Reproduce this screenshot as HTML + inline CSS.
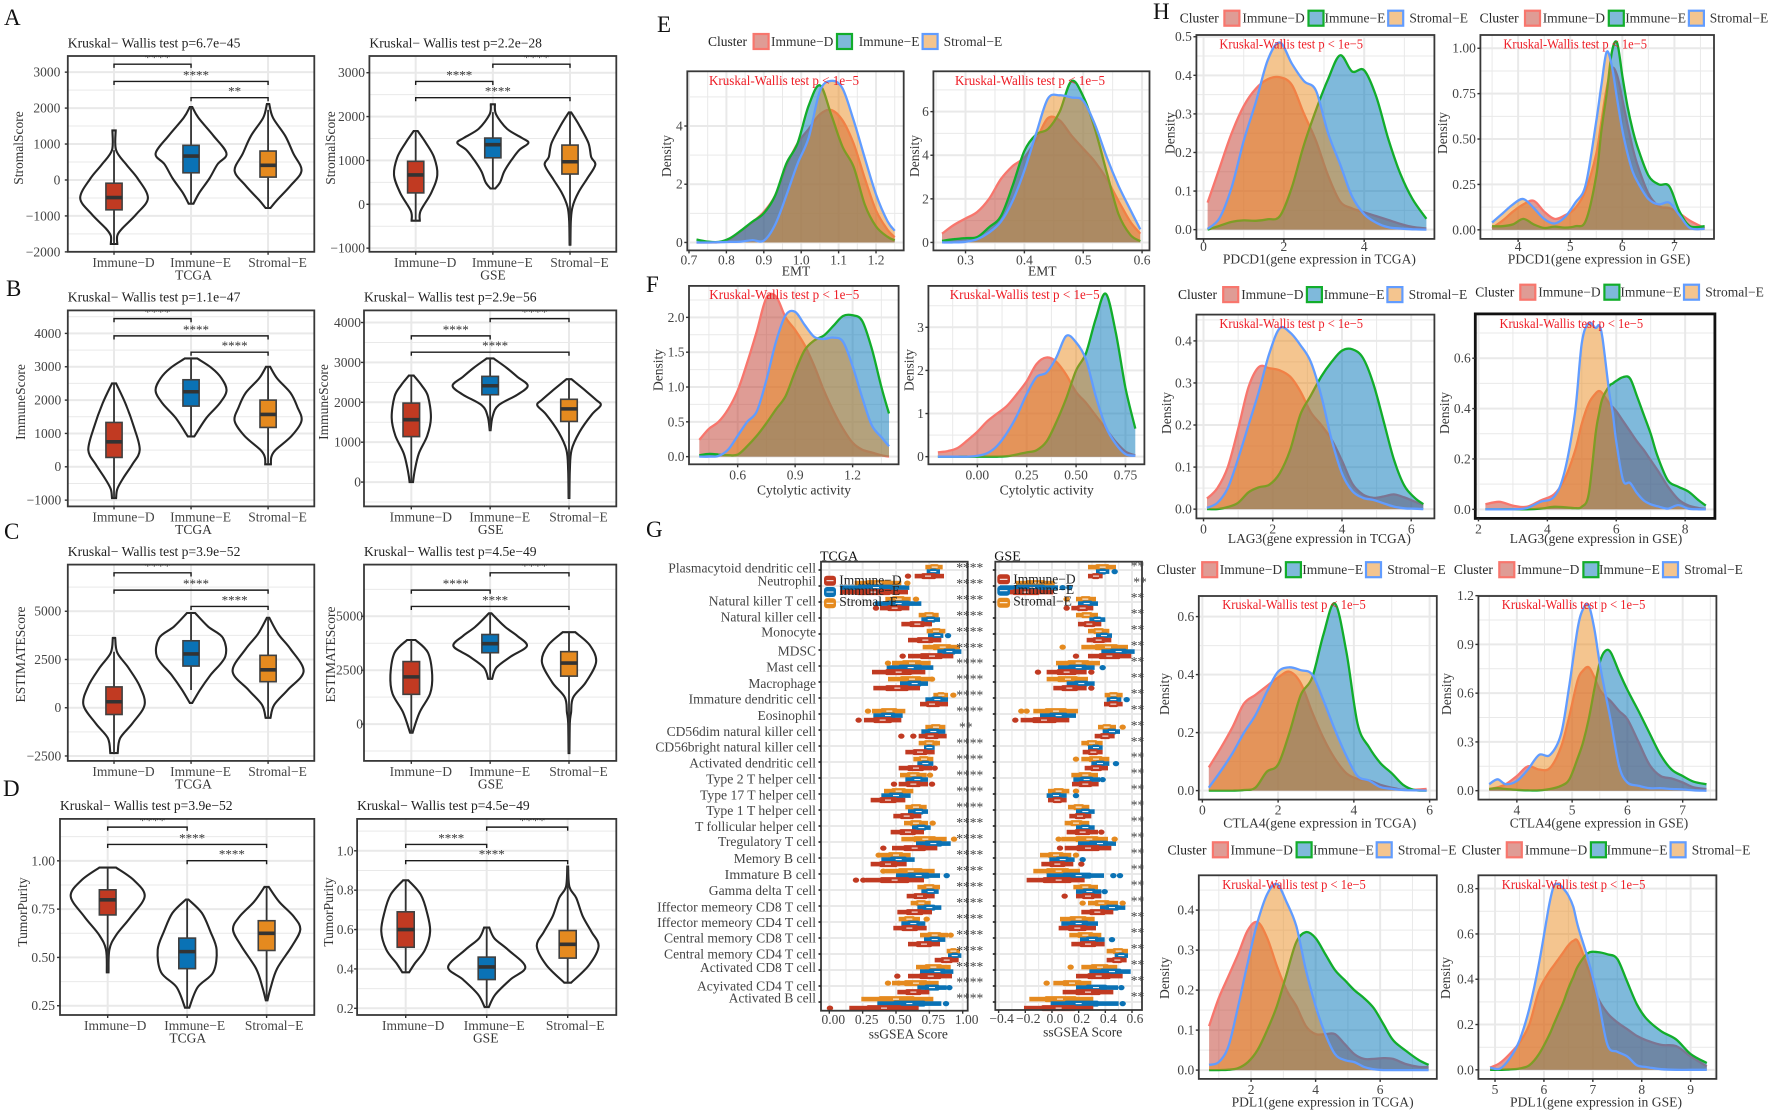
<!DOCTYPE html>
<html lang="en">
<head>
<meta charset="utf-8">
<title>Immune cluster figure</title>
<style>
html,body{margin:0;padding:0;background:#fff;}
#figure{display:block;width:1772px;height:1113px;font-family:"Liberation Serif","Noto Serif CJK SC",serif;filter:blur(0.35px);}
</style>
</head>
<body>
<svg id="figure" xmlns="http://www.w3.org/2000/svg" width="1772" height="1113" viewBox="0 0 1772 1113">
<rect x="0" y="0" width="1772" height="1113" fill="#fff"/>
<g font-size="23" fill="#111">
<text x="4" y="25">A</text>
<text x="6" y="296">B</text>
<text x="4" y="539">C</text>
<text x="3" y="796">D</text>
<text x="657" y="32">E</text>
<text x="646" y="292">F</text>
<text x="646" y="537">G</text>
<text x="1153" y="19">H</text>
</g>
<g font-size="13.5" fill="#444" text-anchor="end">
<text x="816" y="572.4" textLength="147.7" lengthAdjust="spacingAndGlyphs">Plasmacytoid dendritic cell</text>
<text x="816" y="585.6" textLength="58.5" lengthAdjust="spacingAndGlyphs">Neutrophil</text>
<text x="816" y="605.3" textLength="107.2" lengthAdjust="spacingAndGlyphs">Natural killer T cell</text>
<text x="816" y="621.6" textLength="95.4" lengthAdjust="spacingAndGlyphs">Natural killer cell</text>
<text x="816" y="636.7" textLength="54.8" lengthAdjust="spacingAndGlyphs">Monocyte</text>
<text x="816" y="655.6" textLength="38.2" lengthAdjust="spacingAndGlyphs">MDSC</text>
<text x="816" y="671.5" textLength="49.7" lengthAdjust="spacingAndGlyphs">Mast cell</text>
<text x="816" y="687.8" textLength="67.6" lengthAdjust="spacingAndGlyphs">Macrophage</text>
<text x="816" y="703.7" textLength="127.4" lengthAdjust="spacingAndGlyphs">Immature dendritic cell</text>
<text x="816" y="719.9" textLength="58.5" lengthAdjust="spacingAndGlyphs">Eosinophil</text>
<text x="816" y="735.8" textLength="149.4" lengthAdjust="spacingAndGlyphs">CD56dim natural killer cell</text>
<text x="816" y="751.7" textLength="160.6" lengthAdjust="spacingAndGlyphs">CD56bright natural killer cell</text>
<text x="816" y="767.6" textLength="126.8" lengthAdjust="spacingAndGlyphs">Activated dendritic cell</text>
<text x="816" y="783.5" textLength="109.9" lengthAdjust="spacingAndGlyphs">Type 2 T helper cell</text>
<text x="816" y="799.3" textLength="116" lengthAdjust="spacingAndGlyphs">Type 17 T helper cell</text>
<text x="816" y="814.8" textLength="109.9" lengthAdjust="spacingAndGlyphs">Type 1 T helper cell</text>
<text x="816" y="831" textLength="120.9" lengthAdjust="spacingAndGlyphs">T follicular helper cell</text>
<text x="816" y="845.9" textLength="98" lengthAdjust="spacingAndGlyphs">Tregulatory T cell</text>
<text x="816" y="862.9" textLength="82.2" lengthAdjust="spacingAndGlyphs">Memory B cell</text>
<text x="816" y="879.1" textLength="91.3" lengthAdjust="spacingAndGlyphs">Immature  B cell</text>
<text x="816" y="895" textLength="107.2" lengthAdjust="spacingAndGlyphs">Gamma delta T cell</text>
<text x="816" y="911.3" textLength="158.9" lengthAdjust="spacingAndGlyphs">Iffector memeory CD8 T cell</text>
<text x="816" y="926.8" textLength="158.9" lengthAdjust="spacingAndGlyphs">Iffector memeory CD4 T cell</text>
<text x="816" y="942.7" textLength="152" lengthAdjust="spacingAndGlyphs">Central memory CD8 T cell</text>
<text x="816" y="958.6" textLength="152" lengthAdjust="spacingAndGlyphs">Central memory CD4 T cell</text>
<text x="816" y="972.2" textLength="116" lengthAdjust="spacingAndGlyphs">Activated CD8 T cell</text>
<text x="816" y="990.3" textLength="119" lengthAdjust="spacingAndGlyphs">Acyivated CD4 T cell</text>
<text x="816" y="1002.4" textLength="87.2" lengthAdjust="spacingAndGlyphs">Activated B cell</text>
</g>
<g id="plots"></g>
</svg>
<script>
// ---------- shared categories ----------
const categories=['Immune−D','Immune−E','Stromal−E'];

// ---------- violin panels: ticks, profile values, relative density, box stats [low,q1,med,q3,high] ----------
const aTcgaTicks=['-2000','-1000','0','1000','2000','3000'];
const aTcgaValues=[[1380,830,430,40,-500,-950,-1350,-1550,-1780],[2030,1730,1230,735,440,40,-360,-660],[2110,1730,1230,735,260,-160,-560,-780]];
const aTcgaDensity=[[4,5,30,58,83,55,20,8,8],[3,18,55,87,65,45,20,6],[3,12,42,62,82,55,22,6]];
const aTcgaBox=[[-1780,-830,-490,-90,830],[-660,200,666,964,2030],[-780,80,407,805,1950]];

const aGseTicks=['-1000','0','1000','2000','3000'];
const aGseValues=[[1670,1400,1070,670,260,-150,-375],[2280,2050,1720,1520,1400,1240,1000,750,505,360],[2095,1810,1400,1075,900,585,260,-65,-390,-920]];
const aGseDensity=[[5,25,45,53,38,12,10],[5,8,35,70,87,65,45,28,18,6],[3,22,45,52,62,42,20,6,2,1]];
const aGseBox=[[-375,260,670,980,1670],[360,1060,1360,1510,2100],[-920,690,970,1350,2080]];

const bTcgaTicks=['-1000','0','1000','2000','3000','4000'];
const bTcgaValues=[[2500,1900,1150,500,75,-350,-670,-940],[3250,2970,2650,2280,1900,1470,910],[3000,2650,2215,1790,1380,930,500,290,75]];
const bTcgaDensity=[[5,28,50,63,45,22,8,5],[15,50,75,87,70,38,8],[5,22,55,72,82,58,18,8,7]];
const bTcgaBox=[[-940,280,750,1330,2500],[910,1820,2250,2610,3250],[75,1180,1570,2000,3000]];

const bGseTicks=['0','1000','2000','3000','4000'];
const bGseValues=[[2670,2420,2150,1610,1160,715,270,0],[3100,2860,2640,2415,2190,1925,1655,1300],[2580,2330,2060,1925,1700,1250,800,270,-400]];
const bGseDensity=[[6,25,40,47,38,18,8,4],[8,40,65,90,65,20,6,1],[6,35,65,76,55,25,6,2,1]];
const bGseBox=[[0,1140,1565,1980,2670],[1300,2190,2415,2650,3100],[-400,1520,1835,2075,2580]];

const cTcgaTicks=['-2500','0','2500','5000'];
const cTcgaValues=[[3620,2850,2080,1120,150,-810,-1580,-2350],[4910,4200,3620,2660,1700,925,250],[4660,3815,3045,1890,925,150,-520]];
const cTcgaDensity=[[3,8,35,63,75,45,15,9],[10,42,78,84,48,22,3],[3,25,55,87,48,15,6]];
const cTcgaBox=[[-2350,-350,310,1080,2900],[920,2160,2790,3470,4910],[-520,1350,1965,2715,4660]];

const cGseTicks=['0','2500','5000'];
const cGseValues=[[3900,3310,2275,1410,550,-400],[5140,4520,4090,3620,3140,2620,2100],[4260,3655,2880,1930,1240,550,35,-1345]];
const cGseDensity=[[10,40,50,45,20,3],[3,35,65,88,50,15,5],[15,50,65,40,10,5,2,1]];
const cGseBox=[[-400,1380,2190,2900,3900],[2100,3310,3730,4155,5140],[-1345,2225,2830,3360,4260]];

const dTcgaTicks=['0.25','0.50','0.75','1.00'];
const dTcgaValues=[[.965,.90,.817,.71,.615,.54,.423],[.80,.73,.635,.54,.423,.346,.24],[.865,.788,.71,.644,.558,.442,.346,.278]];
const dTcgaDensity=[[20,62,88,55,20,4,2],[3,35,55,70,62,25,5],[5,30,65,80,60,25,10,2]];
const dTcgaBox=[[.423,.72,.798,.85,.965],[.24,.442,.53,.60,.80],[.278,.536,.625,.69,.865]];

const dGseTicks=['0.2','0.4','0.6','0.8','1.0'];
const dGseValues=[[.85,.778,.684,.59,.497,.43,.383],[.61,.555,.497,.41,.346,.27,.206],[.92,.817,.76,.668,.59,.516,.42,.33]];
const dGseDensity=[[6,35,50,57,45,22,8],[6,18,50,90,55,20,5],[1,4,20,35,55,72,50,8]];
const dGseBox=[[.383,.51,.60,.69,.85],[.206,.346,.41,.46,.61],[.33,.455,.525,.595,.92]];

// ---------- density panels ----------
const e1X=[.72,.75,.78,.81,.84,.87,.90,.93,.96,.99,1.02,1.05,1.08,1.11,1.14,1.17,1.20,1.23,1.25];
const e1D=[0,0,.01,.12,.4,.7,1.05,1.6,2.6,3.4,3.9,4.4,4.55,4.2,3.4,2.2,1.1,.45,.18];
const e1E=[.1,.03,.02,.15,.42,.72,1.0,1.6,2.7,3.4,4.7,5.4,4.4,3.3,2.6,1.3,.55,.2,.07];
const e1S=[0,0,.01,.02,.03,.08,.06,.6,1.6,2.7,3.6,5.2,5.55,5.3,4.2,2.9,1.65,.75,.4];
const e1XTicks=['0.7','0.8','0.9','1.0','1.1','1.2'];
const e1YTicks=['0','2','4'];

const e2X=[.26,.28,.30,.32,.34,.36,.38,.40,.42,.44,.46,.48,.50,.52,.54,.56,.58,.597];
const e2D=[.4,.8,1.1,1.4,2,2.9,3.5,3.9,4.7,5.7,5.6,4.9,4.3,3.7,2.9,1.9,.95,.4];
const e2E=[.07,.15,.2,.25,.7,1.2,2.6,4.2,4.95,5.2,6,7.4,6.7,5.2,3.2,1.3,.35,.06];
const e2S=[0,0,.03,.15,.45,.95,1.9,3.3,5,6.6,6.75,6.65,6.5,5.4,3.9,2.6,1.5,.6];
const e2XTicks=['0.3','0.4','0.5','0.6'];
const e2YTicks=['0','2','4','6'];

const f1X=[.4,.45,.5,.55,.6,.65,.7,.75,.8,.85,.9,.95,1,1.05,1.1,1.15,1.2,1.25,1.3,1.35,1.39];
const f1D=[.24,.4,.5,.68,.95,1.35,1.8,2.28,2.3,2.0,1.82,1.6,1.3,.95,.65,.4,.2,.1,.06,.02,0];
const f1E=[.02,.04,.03,.02,.03,.15,.3,.48,.68,.87,1.22,1.53,1.67,1.74,1.88,2.02,2.03,1.95,1.55,1.0,.62];
const f1S=[0,0,.01,.1,.3,.5,.65,1.1,1.65,2.03,2.08,1.89,1.72,1.69,1.71,1.65,1.3,.85,.45,.28,.15];
const f1XTicks=['0.6','0.9','1.2'];
const f1YTicks=['0.0','0.5','1.0','1.5','2.0'];

const f2X=[-.2,-.15,-.1,-.05,0,.05,.1,.15,.2,.25,.3,.35,.4,.45,.5,.55,.6,.65,.7,.75,.8];
const f2D=[.1,.13,.2,.38,.58,.82,1,1.18,1.45,1.75,2.15,2.3,2.2,1.9,1.5,1.25,.95,.65,.35,.12,.03];
const f2E=[0,0,0,0,0,0,0,.01,.05,.1,.15,.35,.8,1.35,2.0,2.4,3.2,3.78,2.9,1.6,.65];
const f2S=[0,0,0,0,.02,.08,.25,.55,.95,1.45,1.85,1.95,2.3,2.8,2.65,2.25,1.4,.7,.3,.06,.02];
const f2XTicks=['0.00','0.25','0.50','0.75'];
const f2YTicks=['0','1','2','3'];

const h1X=[.1,.4,.7,1,1.3,1.6,1.9,2.2,2.5,2.8,3.1,3.4,3.7,4,4.3,4.6,4.9,5.2,5.55];
const h1D=[.07,.16,.25,.32,.365,.39,.395,.375,.3,.23,.14,.073,.055,.045,.035,.025,.015,.007,.003];
const h1E=[0,.01,.02,.024,.023,.027,.035,.11,.22,.31,.39,.452,.41,.413,.345,.235,.145,.08,.028];
const h1S=[.002,.03,.11,.23,.33,.44,.485,.43,.385,.36,.25,.17,.086,.04,.018,.006,.003,.001,0];
const h1XTicks=['0','2','4'];
const h1YTicks=['0.0','0.1','0.2','0.3','0.4','0.5'];

const h2X=[3.5,3.7,3.9,4.1,4.3,4.5,4.7,4.9,5.1,5.3,5.5,5.6,5.7,5.8,5.9,6.0,6.1,6.2,6.3,6.5,6.7,6.9,7.1,7.3,7.58];
const h2D=[.01,.05,.1,.14,.16,.1,.06,.08,.12,.22,.42,.6,.78,.89,.85,.72,.58,.45,.35,.2,.13,.12,.09,.05,.01];
const h2E=[.02,.02,.03,.06,.03,.01,.018,.012,.02,.05,.3,.55,.75,.98,1.03,.85,.68,.55,.45,.3,.25,.24,.1,.02,.02];
const h2S=[.04,.09,.14,.17,.12,.06,.035,.07,.15,.25,.6,.8,.98,.9,.72,.55,.42,.32,.26,.17,.14,.15,.08,.01,.005];
const h2XTicks=['4','5','6','7'];
const h2YTicks=['0.00','0.25','0.50','0.75','1.00'];

const h3X=[.1,.4,.7,1,1.3,1.6,1.9,2.2,2.5,2.8,3.1,3.4,3.7,4,4.3,4.6,4.9,5.2,5.5,5.8,6.1,6.35];
const h3D=[.025,.05,.1,.19,.29,.338,.335,.33,.315,.28,.23,.2,.165,.115,.06,.035,.027,.03,.035,.028,.018,.01];
const h3E=[0,0,.005,.015,.04,.052,.058,.085,.14,.225,.27,.315,.35,.377,.38,.36,.3,.21,.118,.056,.027,.012];
const h3S=[.003,.015,.05,.12,.2,.28,.37,.43,.42,.39,.35,.27,.165,.085,.043,.027,.022,.014,.006,.002,.001,0];
const h3XTicks=['0','2','4','6'];
const h3YTicks=['0.0','0.1','0.2','0.3','0.4'];

const h4X=[2.2,2.6,3,3.4,3.8,4.2,4.5,4.8,5,5.2,5.4,5.5,5.6,5.8,5.9,6,6.2,6.4,6.6,6.8,7,7.2,7.5,7.8,8.1,8.4,8.6];
const h4D=[.02,.03,.015,.01,.035,.06,.12,.23,.34,.42,.46,.47,.46,.42,.405,.39,.35,.31,.27,.235,.195,.155,.09,.04,.015,.005,.002];
const h4E=[0,0,0,0,.003,.01,.008,.005,.01,.06,.3,.38,.44,.49,.5,.51,.525,.52,.45,.375,.3,.21,.115,.09,.07,.035,.015];
const h4S=[0,0,0,.005,.03,.05,.15,.38,.66,.74,.72,.73,.68,.46,.38,.27,.115,.105,.065,.035,.02,.012,.003,.017,.002,0,0];
const h4XTicks=['2','4','6','8'];
const h4YTicks=['0.0','0.2','0.4','0.6'];

const h5X=[.17,.5,.8,1.1,1.4,1.7,2,2.3,2.6,2.9,3.2,3.5,3.8,4.1,4.4,4.7,5,5.3,5.6,5.92];
const h5D=[.08,.15,.22,.3,.33,.36,.39,.41,.37,.27,.18,.11,.06,.04,.035,.02,.01,.003,.003,.006];
const h5E=[0,0,0,.002,.01,.065,.09,.2,.33,.39,.54,.645,.48,.23,.15,.095,.06,.02,.002,0];
const h5S=[.01,.07,.13,.2,.26,.34,.41,.425,.415,.4,.31,.21,.12,.05,.035,.012,.006,.002,.001,0];
const h5XTicks=['0','2','4','6'];
const h5YTicks=['0.0','0.2','0.4','0.6'];

const h6X=[3.5,3.65,3.8,4,4.2,4.4,4.6,4.8,4.95,5.1,5.2,5.3,5.4,5.5,5.6,5.7,5.85,6,6.2,6.4,6.6,6.8,7,7.2,7.43];
const h6D=[.01,.02,.04,.09,.15,.13,.14,.27,.46,.68,.74,.76,.7,.62,.58,.55,.49,.44,.3,.16,.09,.075,.05,.02,.01];
const h6E=[.01,.015,.01,.005,.002,.002,.01,.03,.07,.2,.3,.44,.62,.79,.86,.85,.73,.62,.49,.354,.22,.13,.09,.055,.04];
const h6S=[.04,.07,.04,.06,.13,.22,.22,.35,.65,1.0,1.12,1.14,1.0,.78,.6,.43,.15,.05,.03,.015,.015,.01,.008,.002,0];
const h6XTicks=['4','5','6','7'];
const h6YTicks=['0.0','0.3','0.6','0.9','1.2'];

const h7X=[.7,1,1.3,1.6,1.9,2.2,2.5,2.8,3.1,3.4,3.7,4,4.3,4.6,4.9,5.2,5.5,5.8,6.1,6.4,6.8,7.2,7.5];
const h7D=[.11,.18,.235,.29,.35,.37,.33,.26,.2,.16,.11,.09,.09,.09,.065,.04,.028,.028,.03,.028,.015,.008,.008];
const h7E=[0,0,.001,.005,.02,.05,.1,.16,.24,.32,.345,.33,.29,.25,.225,.2,.18,.155,.115,.075,.048,.025,.013];
const h7S=[.013,.02,.06,.16,.27,.37,.44,.465,.42,.36,.25,.16,.09,.04,.025,.02,.008,.002,0,0,0,0,0];
const h7XTicks=['2','4','6'];
const h7YTicks=['0.0','0.1','0.2','0.3','0.4'];

const h8X=[4.9,5.1,5.3,5.5,5.7,5.9,6.1,6.2,6.3,6.4,6.5,6.6,6.7,6.9,7.1,7.3,7.5,7.7,7.9,8.1,8.4,8.7,9,9.33];
const h8D=[.01,.03,.07,.12,.2,.35,.43,.46,.49,.52,.55,.57,.565,.45,.32,.25,.21,.18,.15,.13,.11,.105,.06,.015];
const h8E=[0,0,.002,.006,.02,.07,.15,.2,.25,.3,.36,.41,.46,.515,.52,.51,.49,.39,.29,.225,.17,.135,.07,.03];
const h8S=[.01,.005,.05,.13,.27,.47,.72,.81,.82,.8,.77,.72,.63,.49,.32,.11,.08,.06,.02,.012,.003,0,0,0];
const h8XTicks=['5','6','7','8','9'];
const h8YTicks=['0.0','0.2','0.4','0.6','0.8'];

// ---------- ssGSEA boxplots: per-cluster arrays ordered Stromal-E, Immune-E, Immune-D (top to bottom in each row) ----------
const tcgaTicks=['0.00','0.25','0.50','0.75','1.00'];
const tcgaLow=[
[.72,.19,.42,.67,.73,.70,.47,.44,.78,.32,.72,.67,.63,.53,.41,.57,.56,.54,.38,.42,.66,.61,.52,.68,.88,.65,.47,.24],
[.73,.08,.34,.69,.74,.81,.43,.53,.72,.33,.69,.71,.66,.57,.39,.59,.62,.65,.39,.50,.69,.66,.54,.71,.89,.68,.66,.36],
[.64,.08,.38,.54,.59,.59,.32,.33,.68,.26,.67,.57,.52,.52,.31,.48,.46,.47,.31,.27,.58,.51,.48,.59,.79,.59,.51,.15]];
const tcgaHigh=[
[.85,.54,.61,.82,.87,.98,.76,.76,.89,.57,.87,.83,.78,.73,.63,.73,.74,.88,.61,.79,.83,.76,.68,.89,.98,.91,.82,.78],
[.83,.60,.69,.83,.855,.99,.78,.74,.89,.55,.87,.79,.78,.74,.61,.74,.76,.91,.64,.83,.82,.84,.72,.87,.99,.93,.88,.84],
[.86,.59,.60,.77,.84,.93,.72,.68,.89,.54,.88,.79,.77,.74,.57,.69,.71,.81,.58,.71,.79,.77,.73,.83,.97,.92,.75,.67]];
const tcgaMedian=[
[.79,.37,.52,.75,.80,.85,.62,.62,.84,.45,.80,.75,.71,.63,.52,.65,.65,.72,.50,.61,.75,.69,.60,.79,.93,.78,.65,.50],
[.78,.35,.52,.76,.81,.90,.61,.64,.81,.44,.78,.75,.72,.66,.50,.67,.69,.78,.52,.67,.76,.75,.63,.79,.94,.81,.77,.60],
[.74,.33,.49,.66,.72,.77,.52,.51,.77,.40,.76,.68,.65,.63,.44,.58,.59,.64,.44,.49,.68,.64,.60,.71,.88,.76,.63,.41]];
const tcgaOutRow=[1,2,6,7,8,9,11,13,16,17,18,19,22,23,26,26, 4,19,26,27, 0,2,5,9,10,10,12,13,13,17,19,19,25,27];
const tcgaOutCluster=[0,0,0,0,0,0,0,0,0,0,0,0,0,0,0,0, 1,1,1,1, 2,2,2,2,2,2,2,2,2,2,2,2,2,2];
const tcgaOutValue=[.585,.65,.44,.77,.93,.29,.80,.755,.775,.935,.37,.405,.73,.91,.44,.52, .89,.88,.90,.875, .59,.35,.55,.22,.54,.63,.79,.485,.77,.405,.20,.255,.51,.005];
const tcgaStars=['****','****','****','****','****','****','****','****','****','****','**','****','****','****','****','****','****','****','****','****','****','****','****','****','****','****','****','****'];

const gseTicks=['−0.4','−0.2','0.0','0.2','0.4','0.6'];
const gseLow=[
[.27,-.27,.18,.18,.27,.22,.03,-.04,.395,-.14,.345,.22,.22,.145,-.03,.12,.095,.07,-.09,-.14,.16,.27,.06,.13,.41,.22,.01,-.17],
[.33,-.39,.195,.28,.33,.37,.045,.11,.41,-.09,.38,.27,.295,.16,-.04,.18,.18,.195,-.02,-.04,.18,.36,.07,.21,.47,.28,.18,-.01],
[.27,-.39,.145,.195,.26,.27,-.04,.01,.39,-.235,.32,.23,.245,.15,-.03,.13,.11,.095,-.08,-.19,.18,.22,.05,.145,.41,.18,.08,-.21]];
const gseHigh=[
[.48,.02,.33,.345,.43,.57,.36,.27,.53,.195,.48,.38,.43,.345,.13,.28,.28,.42,.145,.21,.345,.495,.32,.37,.57,.49,.295,.31],
[.43,.045,.345,.40,.45,.62,.32,.32,.52,.18,.51,.38,.43,.36,.11,.32,.32,.48,.17,.39,.37,.55,.345,.395,.57,.59,.495,.50],
[.38,.01,.31,.37,.445,.595,.26,.26,.53,.13,.47,.38,.42,.35,.11,.295,.345,.445,.16,.245,.37,.46,.33,.395,.56,.53,.46,.31]];
const gseMedian=[
[.38,-.12,.25,.26,.35,.42,.2,.12,.46,.03,.41,.3,.33,.25,.05,.2,.18,.28,.03,.05,.25,.37,.2,.25,.5,.36,.15,.06],
[.38,-.15,.26,.34,.39,.5,.2,.22,.46,.05,.45,.33,.36,.26,.03,.25,.25,.36,.08,.2,.28,.45,.2,.3,.52,.45,.33,.2],
[.33,-.2,.23,.28,.35,.43,.11,.13,.46,-.06,.4,.31,.33,.25,.04,.21,.23,.27,.04,.05,.27,.34,.19,.27,.49,.35,.27,.05]];
const gseOutRow=[2,5,9,9,10,12,14,17,17,18,21,21,25,26, 0,1,1,6,8,12,13,14,18,19,19,20,23,26,27, 2,5,6,6,7,9,16,17,18,20];
const gseOutCluster=[0,0,0,0,0,0,0,0,0,0,0,0,0,0, 1,1,1,1,1,1,1,1,1,1,1,1,1,1,1, 2,2,2,2,2,2,2,2,2,2];
const gseOutValue=[.11,.08,-.23,-.19,.53,.18,.18,.47,.05,.18,.23,.53,.14,-.04, .47,.08,.13,.38,.56,.48,.38,.18,.23,.46,.51,.395,.45,.52,.53, .11,.18,-.105,.295,.295,-.275,.37,.06,.22,.095];
const gseStars=['**','**','**','**','**','**','**','**','**','**','**','**','**','**','**','**','**','**','**','**','**','**','**','**','**','**','**','**'];

// ---------- drawing ----------
const NS='http://www.w3.org/2000/svg';
const root=document.getElementById('plots');
const GRID='#e9e9e9',BORDER='#383838',TICKTXT='#444';
const FILLS=['#c0392b','#0073b7','#e98b1f'];
const LINES=['#f8766d','#12ad2b','#619cff'];
const BOXF=['#c13a22','#0a72b5','#e58a1f'];
let clipN=0;

function mk(parent,tag,attrs,name){
  const el=document.createElementNS(NS,tag);
  for(const k in attrs){el.setAttribute(k,attrs[k]);}
  
  
  parent.appendChild(el);
  return el;
}
function txt(parent,x,y,str,o,name){
  const fs=(o&&o.size)||13.5;
  const a={x:x,y:y+fs*0.33,'font-size':fs,fill:(o&&o.fill)||TICKTXT,'text-anchor':(o&&o.anchor)||'middle'};
  if(o&&o.len){a.textLength=o.len;a.lengthAdjust='spacingAndGlyphs';}
  if(o&&o.rot){a.transform='rotate(-90 '+x+' '+y+')';}
  if(o&&o.clip){a['clip-path']=o.clip;}
  const el=mk(parent,'text',a,name);
  el.textContent=str;
  return el;
}
function num(s){return parseFloat(String(s).replace('−','-'));}
function fmt(s){return String(s).replace('-','−');}
function f1(v){return Math.round(v*10)/10;}
function smooth(pts,move){
  let d=(move?'M':'L')+f1(pts[0][0])+' '+f1(pts[0][1]);
  for(let i=0;i<pts.length-1;i++){
    const p0=pts[Math.max(0,i-1)],p1=pts[i],p2=pts[i+1],p3=pts[Math.min(pts.length-1,i+2)];
    d+=' C'+f1(p1[0]+(p2[0]-p0[0])/6)+' '+f1(p1[1]+(p2[1]-p0[1])/6)+' '+f1(p2[0]-(p3[0]-p1[0])/6)+' '+f1(p2[1]-(p3[1]-p1[1])/6)+' '+f1(p2[0])+' '+f1(p2[1]);
  }
  return d;
}
function linear(d0,d1,r0,r1){return v=>r0+(v-d0)/(d1-d0)*(r1-r0);}
function minors(ticks,lo,hi){
  const step=ticks.length>1?ticks[1]-ticks[0]:1,out=[];
  for(let v=ticks[0]-step/2;v>lo;v-=step){out.push(v);}
  for(let v=ticks[0]+step/2;v<hi;v+=step){out.push(v);}
  return out;
}
function clipFor(L,T,R,B){
  clipN++;
  const id='clip'+clipN;
  const c=mk(root,'clipPath',{id:id},'panel-clip');
  mk(c,'rect',{x:L,y:T,width:R-L,height:B-T},'panel-clip-rect');
  return id;
}
function hLine(g,x1,x2,y,w,name,col){mk(g,'line',{x1:x1,x2:x2,y1:y,y2:y,stroke:col||GRID,'stroke-width':w},name);}
function vLine(g,x,y1,y2,w,name,col){mk(g,'line',{x1:x,x2:x,y1:y1,y2:y2,stroke:col||GRID,'stroke-width':w},name);}

function drawViolin(p){
  const g=mk(root,'g',{},'violin-panel-'+p.id);
  const unit=(p.R-p.L)/3.2;
  const sx=i=>p.L+(i+0.6)*unit;
  const sy=linear(p.yMin,p.yMax,p.B,p.T);
  const ticks=p.ticks.map(num);
  minors(ticks,p.yMin,p.yMax).forEach(v=>hLine(g,p.L,p.R,sy(v),1,'minor-gridline'));
  ticks.forEach(v=>hLine(g,p.L,p.R,sy(v),2,'major-gridline'));
  categories.forEach((c,i)=>vLine(g,sx(i),p.T,p.B,2,'category-gridline'));
  categories.forEach((c,i)=>{
    const vals=p.values[i],den=p.density[i],scale=0.45*unit/85;
    const right=vals.map((v,k)=>[sx(i)+den[k]*scale,sy(v)]);
    const left=vals.map((v,k)=>[sx(i)-den[k]*scale,sy(v)]).reverse();
    mk(g,'path',{d:smooth(right,true)+' '+smooth(left,false)+' Z',fill:'#fff','fill-opacity':.01,stroke:'#262626','stroke-width':2.1},'violin-'+c);
    const b=p.box[i],bw=0.105*unit;
    vLine(g,sx(i),sy(b[0]),sy(b[4]),1.8,'whisker-'+c,'#333');
    mk(g,'rect',{x:sx(i)-bw,y:sy(b[3]),width:2*bw,height:sy(b[1])-sy(b[3]),fill:BOXF[i],stroke:'#404040','stroke-width':1.6},'box-'+c);
    hLine(g,sx(i)-bw,sx(i)+bw,sy(b[2]),3.6,'median-'+c,'#333');
  });
  const clip=clipFor(p.L,p.T,p.R,p.B);
  const h=p.B-p.T,levels=[.042,.13,.213];
  p.brackets.forEach((b,k)=>{
    const y=p.T+levels[k]*h,x1=sx(b[0]),x2=sx(b[1]);
    mk(g,'path',{d:'M'+x1+' '+(y+3.6)+' V'+y+' H'+x2+' V'+(y+3.6),fill:'none',stroke:'#1c1c1c','stroke-width':1.4},'significance-bracket');
    const t=mk(g,'text',{x:(x1+x2)/2+5,y:y-8+5.9,'font-size':13,fill:'#333','text-anchor':'middle','clip-path':'url(#'+clip+')'},'significance-stars');
    t.textContent=b[2];
  });
  mk(g,'rect',{x:p.L,y:p.T,width:p.R-p.L,height:h,fill:'none',stroke:BORDER,'stroke-width':1.8},'panel-border');
  ticks.forEach((v,k)=>{
    hLine(g,p.L-3,p.L,sy(v),1.4,'y-tick','#333');
    txt(g,p.L-p.gap,sy(v),fmt(p.ticks[k]),{anchor:'end'},'y-tick-label');
  });
  categories.forEach((c,i)=>{
    vLine(g,sx(i),p.B,p.B+3,1.4,'x-tick','#333');
    txt(g,sx(i)+p.dx,p.B+10.5,c,{},'x-tick-label');
  });
  txt(g,p.L,p.titleY,p.title,{anchor:'start',fill:'#222',len:172.6},'plot-title');
  txt(g,p.ytx,p.yty,p.ylabel,{rot:true,fill:'#333'},'y-axis-title');
  txt(g,p.xlx,p.B+23,p.xlabel,{fill:'#333'},'x-axis-title');
}

function drawDensity(p){
  const g=mk(root,'g',{},'density-panel-'+p.id);
  const sx=linear(p.xMin,p.xMax,p.L,p.R),sy=linear(p.yMin,p.yMax,p.B,p.T);
  const xt=p.xTicks.map(num),yt=p.yTicks.map(num);
  minors(yt,p.yMin,p.yMax).forEach(v=>hLine(g,p.L,p.R,sy(v),1,'minor-gridline'));
  minors(xt,p.xMin,p.xMax).forEach(v=>vLine(g,sx(v),p.T,p.B,1,'minor-gridline'));
  yt.forEach(v=>hLine(g,p.L,p.R,sy(v),2,'major-gridline'));
  xt.forEach(v=>vLine(g,sx(v),p.T,p.B,2,'major-gridline'));
  [p.d,p.e,p.s].forEach((ys,i)=>{
    const pts=p.x.map((x,k)=>[sx(x),sy(ys[k])]);
    const curve=smooth(pts,true);
    mk(g,'path',{d:curve+' L'+f1(sx(p.x[p.x.length-1]))+' '+f1(sy(0))+' L'+f1(sx(p.x[0]))+' '+f1(sy(0))+' Z',fill:FILLS[i],'fill-opacity':.5},'density-area-'+categories[i]);
    mk(g,'path',{d:curve,fill:'none',stroke:LINES[i],'stroke-width':2.3},'density-line-'+categories[i]);
  });
  mk(g,'rect',{x:p.L,y:p.T,width:p.R-p.L,height:p.B-p.T,fill:'none',stroke:p.thick?'#111':BORDER,'stroke-width':p.thick?2.8:1.8},'panel-border');
  yt.forEach((v,k)=>{
    hLine(g,p.L-3,p.L,sy(v),1.4,'y-tick','#333');
    txt(g,p.L-4.5,sy(v),p.yTicks[k],{anchor:'end'},'y-tick-label');
  });
  xt.forEach((v,k)=>{
    vLine(g,sx(v),p.B,p.B+3,1.4,'x-tick','#333');
    txt(g,sx(v),p.tickY,p.xTicks[k],{},'x-tick-label');
  });
  txt(g,p.testX,p.testY,'Kruskal-Wallis test p < 1e−5',{anchor:'start',fill:'#ee1c25',len:p.testLen,size:14},'kruskal-wallis-annotation');
  txt(g,p.xlx,p.xly,p.xlabel,{fill:'#333',len:p.xlen},'x-axis-title');
  txt(g,p.ytx,p.yty,'Density',{rot:true,fill:'#333'},'y-axis-title');
}

function drawLegend(y,xs){
  const g=mk(root,'g',{},'cluster-legend');
  txt(g,xs[0],y,'Cluster',{anchor:'start',fill:'#222'},'legend-title');
  categories.forEach((c,i)=>{
    mk(g,'rect',{x:xs[1+2*i]+1,y:y-7.5,width:15,height:15,fill:FILLS[i],'fill-opacity':.5,stroke:LINES[i],'stroke-width':2.2},'legend-swatch-'+c);
    txt(g,xs[2+2*i],y,c,{anchor:'start',fill:'#333'},'legend-label-'+c);
  });
}

function drawBoxPanel(p){
  const g=mk(root,'g',{},'ssgsea-panel-'+p.id);
  const sx=linear(p.xMin,p.xMax,p.L,p.R);
  const rowY=r=>570+16*r;
  const xt=p.ticks.map(num);
  minors(xt,p.xMin,p.xMax).forEach(v=>vLine(g,sx(v),p.T,p.B,1.1,'minor-gridline'));
  xt.forEach(v=>vLine(g,sx(v),p.T,p.B,2,'major-gridline'));
  for(let r=0;r<28;r++){hLine(g,p.L,p.R,rowY(r),2,'row-gridline');}
  const order=[2,1,0];       // array index 0=Stromal-E,1=Immune-E,2=Immune-D
  [0,1,2].forEach(c=>{
    const col=BOXF[order[c]];
    const dy=1.6+(c-1)*4.5;
    for(let r=0;r<28;r++){
      const lo=p.low[c][r],hi=p.high[c][r],med=p.median[c][r];
      const y=rowY(r)+dy;
      mk(g,'rect',{x:sx(lo),y:y-2.3,width:sx(hi)-sx(lo),height:4.6,fill:col},'whisker-bar');
      const q1=med-(med-lo)*.5,q3=med+(hi-med)*.5;
      mk(g,'rect',{x:sx(q1),y:y-3,width:sx(q3)-sx(q1),height:6,rx:1.5,fill:col},'box-bar');
      mk(g,'rect',{x:sx(med)-3,y:y-.5,width:6,height:1,fill:'#fff'},'median-mark');
    }
  });
  p.outRow.forEach((r,k)=>{
    const c=p.outCluster[k];
    mk(g,'ellipse',{cx:sx(p.outValue[k]),cy:rowY(r)+1.6+(c-1)*4.5,rx:3.2,ry:2.6,fill:BOXF[order[c]]},'outlier-point');
  });
  mk(g,'rect',{x:p.L,y:p.T,width:p.R-p.L,height:p.B-p.T,fill:'none',stroke:BORDER,'stroke-width':1.8},'panel-border');
  for(let r=0;r<28;r++){
    hLine(g,p.L-2.5,p.L,rowY(r),1.6,'y-tick','#222');
    const special=p.stars[r].length===2&&p.special===r;
    const sxv=special?p.specialX:p.starX;
    const s=mk(g,'text',{x:sxv,y:p.starY+15.95*r+6,'font-size':13.5,fill:'#444','text-anchor':p.starAnchor},'significance-stars');
    s.textContent=p.stars[r];
  }
  xt.forEach((v,k)=>{
    vLine(g,sx(v),p.B,p.B+3,1.4,'x-tick','#333');
    txt(g,sx(v)+p.labelDx,p.tickY,p.ticks[k],{},'x-tick-label');
  });
  txt(g,p.L-1,555.7,p.title,{anchor:'start',fill:'#111',size:14},'panel-title');
  txt(g,p.xlx,p.xly,'ssGSEA Score',{fill:'#333'},'x-axis-title');
  const keys=[0,1,2];
  keys.forEach(i=>{
    const iy=p.keyIconY[i];
    mk(g,'rect',{x:p.keyX,y:iy-5,width:p.keyW,height:10,rx:3,fill:BOXF[i]},'legend-key-'+categories[i]);
    mk(g,'rect',{x:p.keyX+2.5,y:iy-.5,width:p.keyW-5,height:1,fill:'#fff'},'legend-key-median');
    txt(g,p.keyTextX,p.keyTextY[i],categories[i],{anchor:'start',fill:'#222'},'legend-label-'+categories[i]);
  });
}

function renderAll(){
  const std=[[0,1,'****'],[0,2,'****'],[1,2,'****']];
  const gse=[[1,2,'****'],[0,1,'****'],[0,2,'****']];
  drawViolin({id:'a-tcga',L:67.8,R:314.3,T:56,B:251.8,yMin:-1998,yMax:3449,ticks:aTcgaTicks,values:aTcgaValues,density:aTcgaDensity,box:aTcgaBox,brackets:[[0,1,'****'],[0,2,'****'],[1,2,'**']],gap:7.4,dx:9.5,title:'Kruskal− Wallis test p=6.7e−45',titleY:43,ylabel:'StromalScore',ytx:18.4,yty:148,xlabel:'TCGA',xlx:193.5});
  drawViolin({id:'a-gse',L:369.4,R:616.3,T:56,B:251.8,yMin:-1083,yMax:3381,ticks:aGseTicks,values:aGseValues,density:aGseDensity,box:aGseBox,brackets:gse,gap:4.4,dx:9.5,title:'Kruskal− Wallis test p=2.2e−28',titleY:43,ylabel:'StromalScore',ytx:330.6,yty:148,xlabel:'GSE',xlx:493});
  drawViolin({id:'b-tcga',L:67.8,R:314.3,T:310.4,B:506.4,yMin:-1188,yMax:4690,ticks:bTcgaTicks,values:bTcgaValues,density:bTcgaDensity,box:bTcgaBox,brackets:std,gap:6.5,dx:9.5,title:'Kruskal− Wallis test p=1.1e−47',titleY:297,ylabel:'ImmuneScore',ytx:20.4,yty:402,xlabel:'TCGA',xlx:193.5});
  drawViolin({id:'b-gse',L:364,R:616.3,T:310.4,B:506.4,yMin:-610,yMax:4304,ticks:bGseTicks,values:bGseValues,density:bGseDensity,box:bGseBox,brackets:gse,gap:3,dx:9.5,title:'Kruskal− Wallis test p=2.9e−56',titleY:297,ylabel:'ImmuneScore',ytx:323.7,yty:402,xlabel:'GSE',xlx:490.6});
  drawViolin({id:'c-tcga',L:67.8,R:314.3,T:564.6,B:760.9,yMin:-2755,yMax:7418,ticks:cTcgaTicks,values:cTcgaValues,density:cTcgaDensity,box:cTcgaBox,brackets:std,gap:6.5,dx:9.5,title:'Kruskal− Wallis test p=3.9e−52',titleY:551.4,ylabel:'ESTIMATEScore',ytx:20.4,yty:654.5,xlabel:'TCGA',xlx:193.5});
  drawViolin({id:'c-gse',L:364,R:616.3,T:564.6,B:760.9,yMin:-1707,yMax:7397,ticks:cGseTicks,values:cGseValues,density:cGseDensity,box:cGseBox,brackets:gse,gap:1,dx:9.5,title:'Kruskal− Wallis test p=4.5e−49',titleY:551.4,ylabel:'ESTIMATEScore',ytx:330.6,yty:654.5,xlabel:'GSE',xlx:490.6});
  drawViolin({id:'d-tcga',L:60,R:314.3,T:818.9,B:1015,yMin:.202,yMax:1.217,ticks:dTcgaTicks,values:dTcgaValues,density:dTcgaDensity,box:dTcgaBox,brackets:std,gap:5,dx:7.5,title:'Kruskal− Wallis test p=3.9e−52',titleY:805.5,ylabel:'TumorPurity',ytx:22.4,yty:912,xlabel:'TCGA',xlx:187.8});
  drawViolin({id:'d-gse',L:357.1,R:616.3,T:818.9,B:1015,yMin:.166,yMax:1.162,ticks:dGseTicks,values:dGseValues,density:dGseDensity,box:dGseBox,brackets:gse,gap:3.5,dx:7.5,title:'Kruskal− Wallis test p=4.5e−49',titleY:805.5,ylabel:'TumorPurity',ytx:328.6,yty:912,xlabel:'GSE',xlx:485.7});

  drawLegend(41.5,[708,752.6,771,836,858.7,921.6,943.6]);
  drawDensity({id:'e-tcga',L:687.3,R:903.7,T:71.3,B:250.4,xMin:.6955,xMax:1.274,yMin:-.273,yMax:5.88,x:e1X,d:e1D,e:e1E,s:e1S,xTicks:e1XTicks,yTicks:e1YTicks,tickY:260,testX:709,testY:80.6,testLen:150,xlabel:'EMT',xlx:796,xly:271,ytx:666.4,yty:156});
  drawDensity({id:'e-gse',L:933.4,R:1149.5,T:71.3,B:250.4,xMin:.2454,xMax:.6126,yMin:-.365,yMax:7.85,x:e2X,d:e2D,e:e2E,s:e2S,xTicks:e2XTicks,yTicks:e2YTicks,tickY:260,testX:955,testY:80.6,testLen:150,xlabel:'EMT',xlx:1042.3,xly:271,ytx:914.5,yty:156});
  drawDensity({id:'f-tcga',L:689,R:898.6,T:285.9,B:464.3,xMin:.346,xMax:1.44,yMin:-.11,yMax:2.452,x:f1X,d:f1D,e:f1E,s:f1S,xTicks:f1XTicks,yTicks:f1YTicks,tickY:475,testX:709.3,testY:294.5,testLen:150,xlabel:'Cytolytic activity',xlx:804,xly:490,ytx:658,yty:370});
  drawDensity({id:'f-gse',L:928.4,R:1144.4,T:285.9,B:464.3,xMin:-.248,xMax:.846,yMin:-.177,yMax:3.96,x:f2X,d:f2D,e:f2E,s:f2S,xTicks:f2XTicks,yTicks:f2YTicks,tickY:475,testX:949.7,testY:294.5,testLen:150,xlabel:'Cytolytic activity',xlx:1046.7,xly:490,ytx:908.8,yty:370});

  drawLegend(18.2,[1179.7,1223.4,1242.4,1307.5,1324.5,1387.2,1409.4]);
  drawLegend(18.2,[1479.6,1524,1542.7,1607.8,1625.2,1687.9,1709.7]);
  drawDensity({id:'h-pdcd1-tcga',L:1196.4,R:1434.4,T:35,B:238.9,xMin:-.178,xMax:5.748,yMin:-.024,yMax:.5045,x:h1X,d:h1D,e:h1E,s:h1S,xTicks:h1XTicks,yTicks:h1YTicks,tickY:246.6,testX:1219.4,testY:44,testLen:143.6,xlabel:'PDCD1(gene expression in TCGA)',xlx:1319.4,xly:258.9,xlen:193,ytx:1169.8,yty:133});
  drawDensity({id:'h-pdcd1-gse',L:1480.4,R:1714,T:35,B:238.9,xMin:3.276,xMax:7.76,yMin:-.05,yMax:1.073,x:h2X,d:h2D,e:h2E,s:h2S,xTicks:h2XTicks,yTicks:h2YTicks,tickY:246.6,testX:1503.4,testY:44,testLen:143.6,xlabel:'PDCD1(gene expression in GSE)',xlx:1599,xly:258.9,xlen:182.5,ytx:1442.3,yty:133});
  drawLegend(294.6,[1178,1222.2,1241.2,1305.9,1323.7,1386.4,1408.6]);
  drawLegend(292.2,[1475.3,1519.3,1538.3,1603.4,1620.4,1683,1705.3]);
  drawDensity({id:'h-lag3-tcga',L:1196.4,R:1434.4,T:314.6,B:518.4,xMin:-.206,xMax:6.67,yMin:-.022,yMax:.4625,x:h3X,d:h3D,e:h3E,s:h3S,xTicks:h3XTicks,yTicks:h3YTicks,tickY:529,testX:1219.4,testY:323.4,testLen:143.6,xlabel:'LAG3(gene expression in TCGA)',xlx:1319.4,xly:538.4,xlen:183,ytx:1166.7,yty:413});
  drawDensity({id:'h-lag3-gse',L:1475.3,R:1714.9,T:313.9,B:518.4,thick:true,xMin:1.908,xMax:8.864,yMin:-.036,yMax:.776,x:h4X,d:h4D,e:h4E,s:h4S,xTicks:h4XTicks,yTicks:h4YTicks,tickY:529,testX:1499.5,testY:323.4,testLen:143.6,xlabel:'LAG3(gene  expression in GSE)',xlx:1596,xly:538.4,xlen:172.5,ytx:1444.3,yty:413});
  drawLegend(569.7,[1156.7,1201.2,1219.8,1284.9,1302.3,1365,1387.2]);
  drawLegend(569.7,[1453.9,1498.3,1517,1582.4,1599,1662,1684.3]);
  drawDensity({id:'h-ctla4-tcga',L:1198.8,R:1436.8,T:596,B:799.6,xMin:-.094,xMax:6.19,yMin:-.031,yMax:.671,x:h5X,d:h5D,e:h5E,s:h5S,xTicks:h5XTicks,yTicks:h5YTicks,tickY:810,testX:1222.2,testY:604.6,testLen:143.6,xlabel:'CTLA4(gene expression in TCGA)',xlx:1319.8,xly:822.9,xlen:193,ytx:1164.7,yty:694});
  drawDensity({id:'h-ctla4-gse',L:1478.4,R:1716.4,T:596,B:799.6,xMin:3.304,xMax:7.61,yMin:-.055,yMax:1.198,x:h6X,d:h6D,e:h6E,s:h6S,xTicks:h6XTicks,yTicks:h6YTicks,tickY:810,testX:1501.8,testY:604.6,testLen:143.6,xlabel:'CTLA4(gene expression in GSE)',xlx:1599,xly:822.9,xlen:178.5,ytx:1446.7,yty:694});
  drawLegend(849.8,[1167.5,1211.9,1230.5,1295.6,1313,1375.7,1397.9]);
  drawLegend(849.8,[1461.8,1505.8,1524.9,1589.9,1606.6,1669.6,1691.8]);
  drawDensity({id:'h-pdl1-tcga',L:1198.8,R:1436.8,T:875.3,B:1078.9,xMin:.38,xMax:7.755,yMin:-.022,yMax:.487,x:h7X,d:h7D,e:h7E,s:h7S,xTicks:h7XTicks,yTicks:h7YTicks,tickY:1089.7,testX:1222.2,testY:884.3,testLen:143.6,xlabel:'PDL1(gene expression in TCGA)',xlx:1322.6,xly:1102.2,xlen:182,ytx:1164.7,yty:978});
  drawDensity({id:'h-pdl1-gse',L:1478.4,R:1716.4,T:875.3,B:1078.9,xMin:4.66,xMax:9.527,yMin:-.04,yMax:.859,x:h8X,d:h8D,e:h8E,s:h8S,xTicks:h8XTicks,yTicks:h8YTicks,tickY:1089.7,testX:1501.8,testY:884.3,testLen:143.6,xlabel:'PDL1(gene expression in GSE)',xlx:1596,xly:1102.2,xlen:172,ytx:1445.5,yty:978});

  drawBoxPanel({id:'tcga',title:'TCGA',L:821,R:967.7,T:561.7,B:1010.7,xMin:-.0622,xMax:1.0375,ticks:tcgaTicks,low:tcgaLow,high:tcgaHigh,median:tcgaMedian,outRow:tcgaOutRow,outCluster:tcgaOutCluster,outValue:tcgaOutValue,stars:tcgaStars,starX:969.7,starY:566,starAnchor:'middle',special:10,specialX:965.7,labelDx:4,tickY:1019.3,xlx:908.3,xly:1034,keyX:824,keyW:12,keyIconY:[580.7,592,603.3],keyTextX:839.3,keyTextY:[580,590.7,601.7]});
  drawBoxPanel({id:'gse',title:'GSE',L:995.3,R:1142,T:561.7,B:1010,xMin:-.425,xMax:.675,ticks:gseTicks,low:gseLow,high:gseHigh,median:gseMedian,outRow:gseOutRow,outCluster:gseOutCluster,outValue:gseOutValue,stars:gseStars,starX:1130.7,starY:564.3,starAnchor:'start',special:1,specialX:1133.3,labelDx:3,tickY:1018.3,xlx:1082.7,xly:1032,keyX:997.3,keyW:12.7,keyIconY:[579.3,590.7,602.7],keyTextX:1013.3,keyTextY:[579,589.3,601]});
}
renderAll();
</script>
</body>
</html>
